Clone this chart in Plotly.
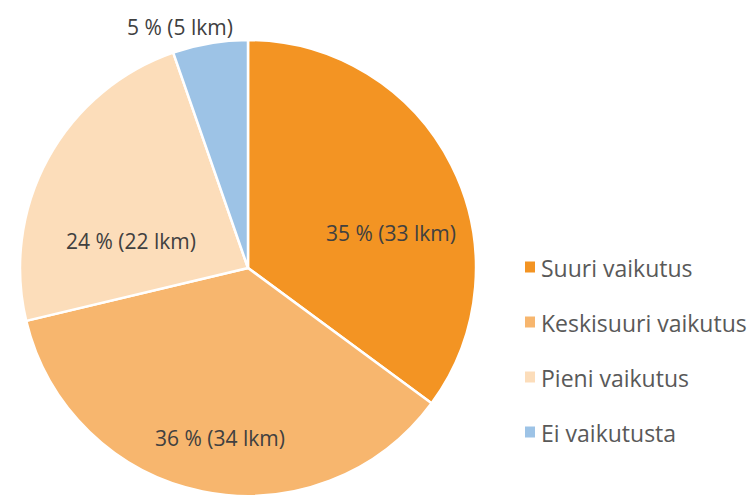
import plotly.graph_objects as go

labels = ["Suuri vaikutus", "Keskisuuri vaikutus", "Pieni vaikutus", "Ei vaikutusta"]
counts = [33, 34, 22, 5]
pct_text = ["35 %", "36 %", "24 %", "5 %"]
colors = ["#F39423", "#F7B66E", "#FCDDBA", "#9DC3E6"]

texts = [f"{p} ({c} lkm)" for p, c in zip(pct_text, counts)]

W, H = 753, 504
# data-label placement (pixel centres), layout only
label_pos = [(391, 233), (220, 438), (131, 241), (180, 27)]
leg_y = [267, 322, 377, 432]

fig = go.Figure()
fig.add_trace(go.Pie(
    labels=labels, values=counts, text=texts, textinfo="none",
    sort=False, direction="clockwise", rotation=0,
    marker=dict(colors=colors, line=dict(color="white", width=2.5)),
    domain=dict(x=[20/W, 476/W], y=[1-496/H, 1-40/H]),
    showlegend=False,
    hoverinfo="label+value+percent",
))

for t, (px, py) in zip(texts, label_pos):
    fig.add_annotation(x=px/W, y=1-py/H, xref="paper", yref="paper",
                       text=t, showarrow=False, xanchor="center", yanchor="middle",
                       font=dict(family="Open Sans", size=21, color="#404040"))

# legend drawn as squares + text
for lab, col, yy in zip(labels, colors, leg_y):
    fig.add_shape(type="rect", xref="paper", yref="paper",
                  x0=525/W, x1=535/W, y0=1-(yy+5.5)/H, y1=1-(yy-5.5)/H,
                  fillcolor=col, line=dict(width=0))
    fig.add_annotation(x=539/W, y=1-(yy+1)/H, xref="paper", yref="paper",
                       text=lab, showarrow=False, xanchor="left", yanchor="middle",
                       font=dict(family="Open Sans", size=23, color="#595959"))

fig.update_layout(width=W, height=H, margin=dict(l=0, r=0, t=0, b=0),
                  paper_bgcolor="white", plot_bgcolor="white")
fig.write_html("out.html", config={"displayModeBar": False},
               post_script="document.body.style.margin='0px';")
